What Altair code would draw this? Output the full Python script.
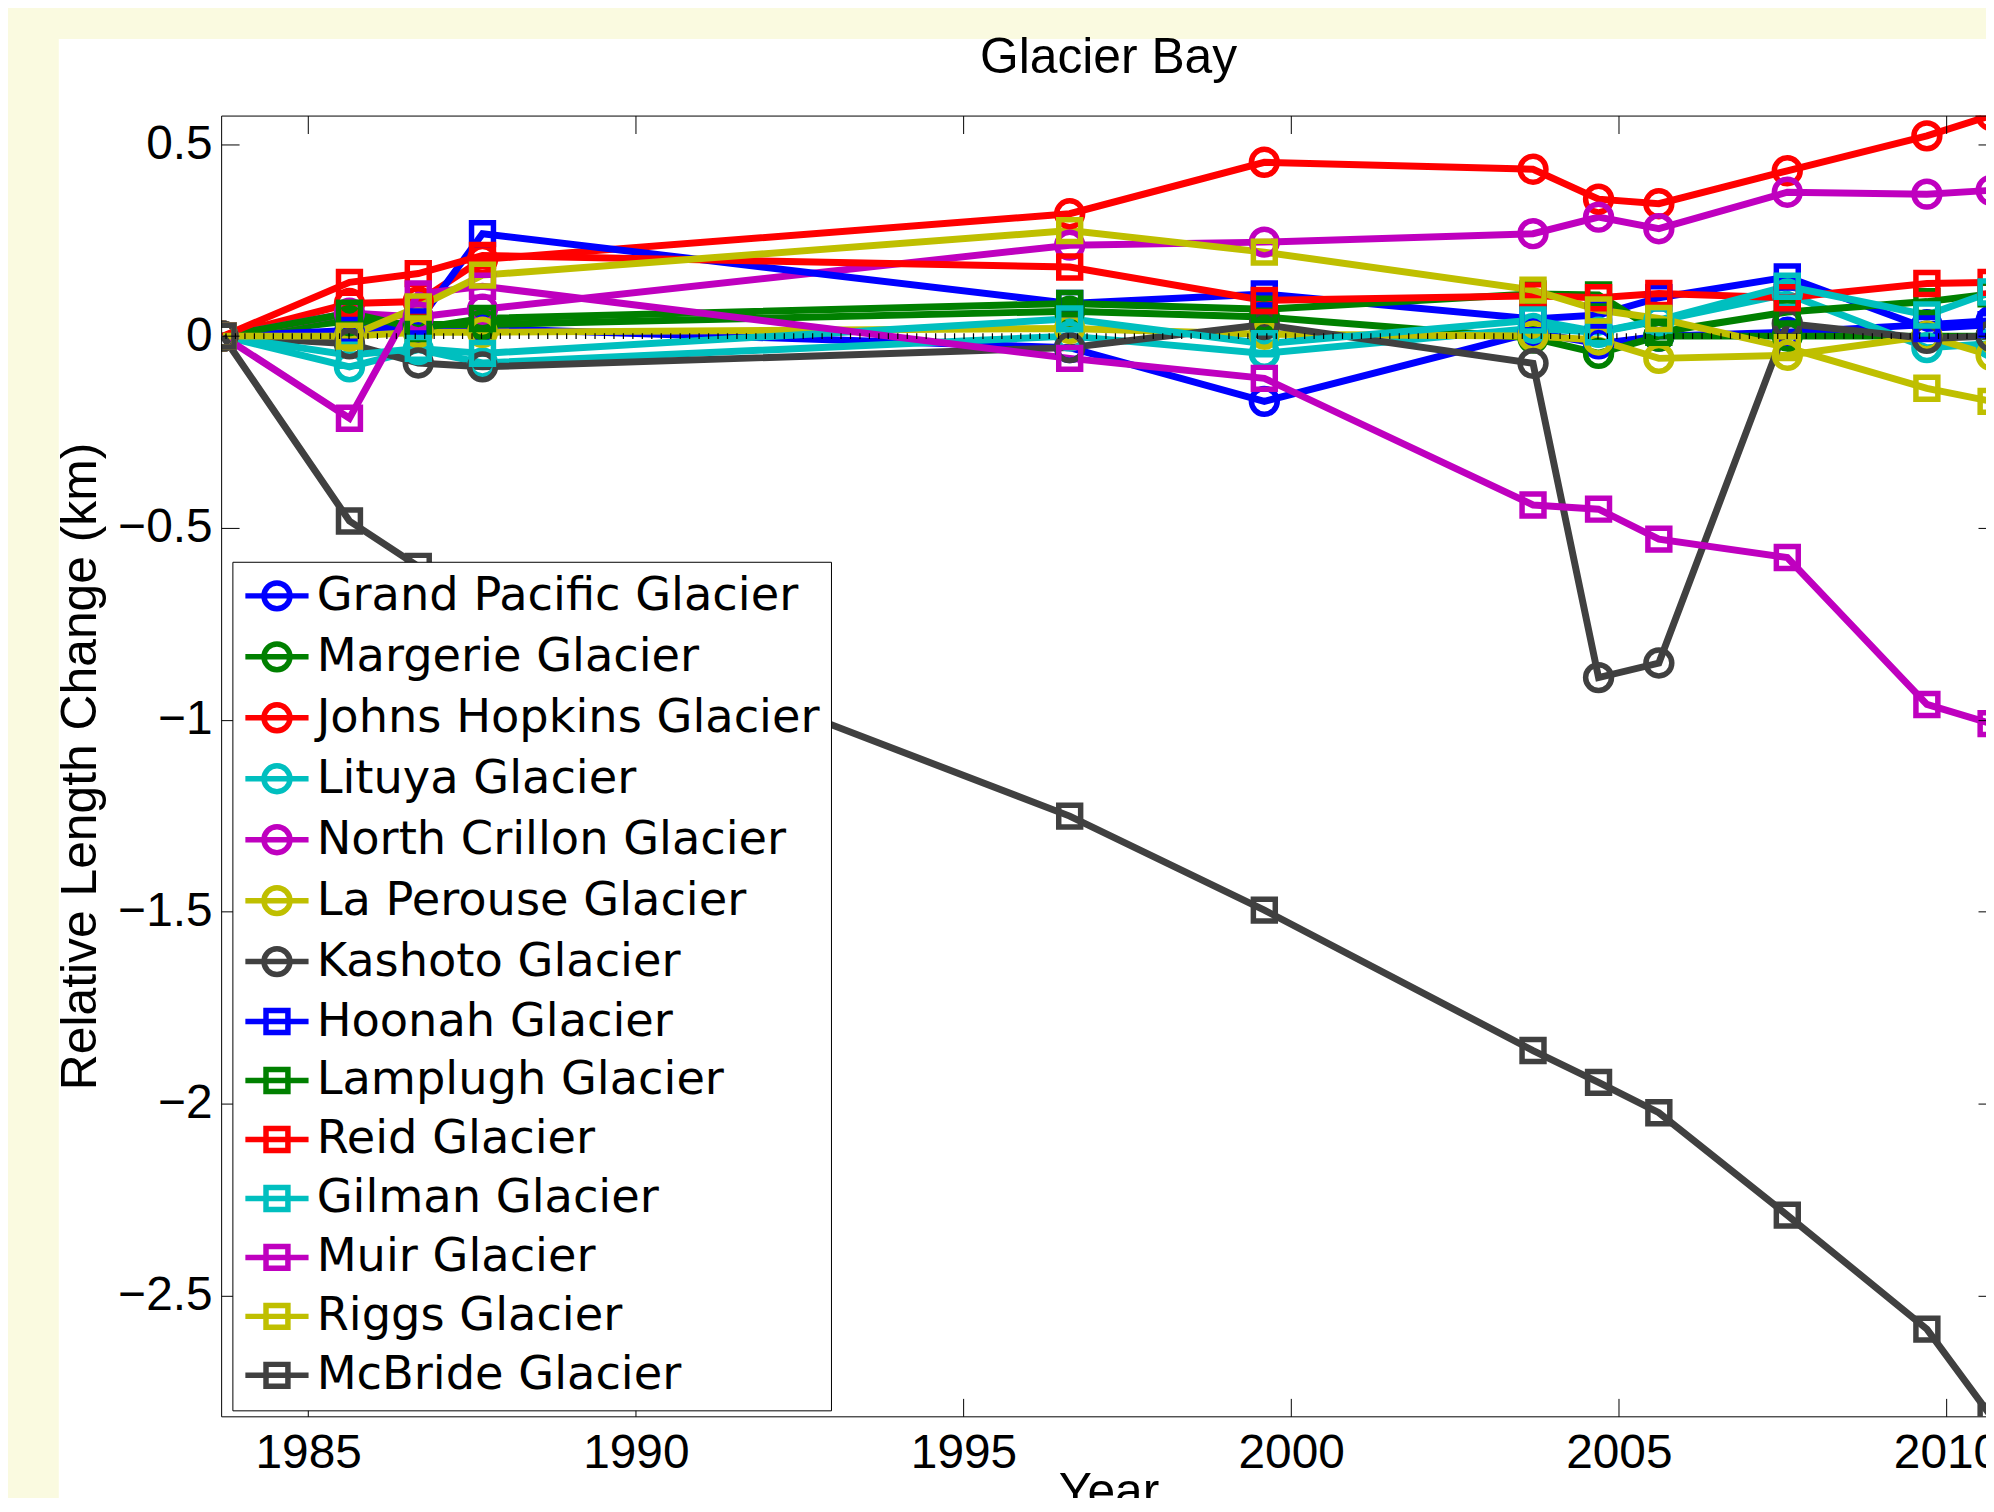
import altair as alt
import pandas as pd

# ---------------- data ----------------
years = [1983.70, 1985.63, 1986.68, 1987.66, 1996.62, 1999.59,
         2003.69, 2004.69, 2005.61, 2007.57, 2009.70, 2010.68]

glaciers = ["Grand Pacific Glacier", "Margerie Glacier", "Johns Hopkins Glacier",
            "Lituya Glacier", "North Crillon Glacier", "La Perouse Glacier",
            "Kashoto Glacier", "Hoonah Glacier", "Lamplugh Glacier", "Reid Glacier",
            "Gilman Glacier", "Muir Glacier", "Riggs Glacier", "McBride Glacier"]

markers = ["circle"] * 7 + ["square"] * 7

colors = ["#0000FF", "#008000", "#FF0000", "#00BFBF", "#BF00BF", "#BFBF00", "#404040",
          "#0000FF", "#008000", "#FF0000", "#00BFBF", "#BF00BF", "#BFBF00", "#404040"]

grand_pacific = [0, 0.01, 0.02, 0.02, -0.03, -0.17, 0.01, -0.02, 0.0, 0.01, 0.03, 0.04]
margerie = [0, 0.04, 0.03, 0.03, 0.065, 0.05, -0.005, -0.045, 0.0, 0.0, 0.0, 0.0]
johns_hopkins = [0, 0.085, 0.09, 0.2, 0.319, 0.453, 0.435, 0.357, 0.345, 0.431, 0.522, 0.575]
lituya = [0, -0.08, -0.035, -0.07, 0.0, -0.045, 0.02, 0.01, 0.04, 0.11, -0.03, -0.02]
north_crillon = [0, 0.06, 0.05, 0.07, 0.237, 0.245, 0.267, 0.31, 0.28, 0.375, 0.37, 0.38]
la_perouse = [0, 0.0, 0.01, 0.01, 0.02, 0.005, 0.0, -0.01, -0.058, -0.05, 0.0, -0.05]
kashoto = [0, -0.02, -0.07, -0.08, -0.03, 0.03, -0.071, -0.89, -0.852, 0.033, -0.006, 0.0]
hoonah = [0, 0.015, 0.037, 0.267, 0.085, 0.11, 0.045, 0.055, 0.1, 0.154, 0.02, 0.03]
lamplugh = [0, 0.06, 0.02, 0.046, 0.085, 0.07, 0.11, 0.107, 0.01, 0.063, 0.09, 0.11]
reid = [0, 0.14, 0.163, 0.21, 0.18, 0.093, 0.105, 0.10, 0.111, 0.10, 0.137, 0.14]
gilman = [0, -0.05, -0.032, -0.045, 0.045, -0.02, 0.042, 0.011, 0.042, 0.13, 0.055, 0.115]
muir = [0, -0.214, 0.11, 0.13, -0.058, -0.11, -0.44, -0.451, -0.529, -0.577, -0.96, -1.01]
riggs = [0, 0.0, 0.076, 0.159, 0.275, 0.219, 0.12, 0.068, 0.046, -0.03, -0.136, -0.17]
mcbride = [0, -0.482, -0.60, None, -1.251, -1.496, -1.862, -1.945, -2.024, -2.291, -2.588, -2.815]

series = [grand_pacific, margerie, johns_hopkins, lituya, north_crillon, la_perouse, kashoto,
          hoonah, lamplugh, reid, gilman, muir, riggs, mcbride]

x_ticks = [1985, 1990, 1995, 2000, 2005, 2010]
y_ticks = [-2.5, -2, -1.5, -1, -0.5, 0, 0.5]

rows = []
for g, m, vals in zip(glaciers, markers, series):
    for yr, v in zip(years, vals):
        if v is not None:
            rows.append({"glacier": g, "marker": m, "year": yr, "change": v})
df = pd.DataFrame(rows)

# ---------------- layout ----------------
W, H = 1782, 1306
FONT = "Liberation Sans"

xs = alt.Scale(domain=[1983.672, 2010.754], nice=False, zero=False)
ys = alt.Scale(domain=[-2.8153, 0.5748], nice=False, zero=False)
cs = alt.Scale(domain=glaciers, range=colors)

circle_path = "M-2.44,0L2.44,0M1,0A1,1,0,1,1,-1,0A1,1,0,1,1,1,0"
square_path = "M-2.44,0L2.44,0M-0.846,-0.846L0.846,-0.846L0.846,0.846L-0.846,0.846Z"
legend_shapes = [circle_path if m == "circle" else square_path for m in markers]

bottom_axis = alt.Axis(orient="bottom", values=x_ticks, format="d", labelFont=FONT,
                       labelFontSize=48, labelColor="black", labelPadding=13,
                       labelFlush=False, labelOverlap=False, ticks=False, tickSize=0,
                       domain=True, domainColor="black", domainWidth=1, grid=False,
                       title="Year", titleFont=FONT, titleFontSize=50,
                       titleFontWeight="normal", titleColor="black",
                       titleBaseline="alphabetic", titleAlign="center",
                       titleX=W / 2, titleY=92, zindex=1)
left_axis = alt.Axis(orient="left", values=y_ticks, format="~g", labelFont=FONT,
                     labelFontSize=48, labelColor="black", labelPadding=9,
                     labelOverlap=False, ticks=False, tickSize=0, domain=True,
                     domainColor="black", domainWidth=1, grid=False,
                     title="Relative Length Change (km)", titleFont=FONT,
                     titleFontSize=50, titleFontWeight="normal", titleColor="black",
                     titleAngle=270, titleBaseline="alphabetic", titleAlign="center",
                     titleX=-126, titleY=H / 2, zindex=1)
bottom_in_ticks = alt.Axis(orient="top", offset=-H, values=x_ticks, labels=False,
                           ticks=True, tickSize=18, tickColor="black", tickWidth=1,
                           domain=False, grid=False, title=None, zindex=1)
left_in_ticks = alt.Axis(orient="right", offset=-W, values=y_ticks, labels=False,
                         ticks=True, tickSize=18, tickColor="black", tickWidth=1,
                         domain=False, grid=False, title=None, zindex=1)
top_in_ticks = alt.Axis(orient="bottom", offset=-H, values=x_ticks, labels=False,
                        ticks=True, tickSize=18, tickColor="black", tickWidth=1,
                        domain=True, domainColor="black", domainWidth=1, grid=False,
                        title=None, zindex=1)
right_in_ticks = alt.Axis(orient="left", offset=-W, values=y_ticks, labels=False,
                          ticks=True, tickSize=18, tickColor="black", tickWidth=1,
                          domain=True, domainColor="black", domainWidth=1, grid=False,
                          title=None, zindex=1)

leg = alt.Legend(title=None, orient="none", legendX=11.3, legendY=448,
                 direction="vertical", padding=11, rowPadding=12.2,
                 symbolSize=676, symbolStrokeWidth=5.5, symbolOffset=10.5,
                 labelOffset=16.6, labelFont="DejaVu Sans", labelFontSize=46.5,
                 labelColor="black", labelLimit=1000, strokeColor="black",
                 fillColor="white", zindex=1)

panel = alt.Chart(pd.DataFrame({"p": [0]})).mark_rect(color="white", clip=False).encode(
    x=alt.value(-163), x2=alt.value(W + 60), y=alt.value(-77), y2=alt.value(H + 200))

# legend-only layer (its points fall outside the x domain and are clipped away)
legend_df = pd.DataFrame({"glacier": glaciers, "year": [1950.0] * 14, "change": [0.0] * 14})
legend_layer = alt.Chart(legend_df).mark_point(filled=False, opacity=1, clip=True,
                                               size=676, strokeWidth=5.5).encode(
    x=alt.X("year:Q", scale=xs, axis=top_in_ticks),
    y=alt.Y("change:Q", scale=ys, axis=None),
    color=alt.Color("glacier:N", scale=cs, legend=leg),
    shape=alt.Shape("glacier:N", scale=alt.Scale(domain=glaciers, range=legend_shapes),
                    legend=leg),
)

lines = alt.Chart(df).mark_line(strokeWidth=7, clip=True).encode(
    x=alt.X("year:Q", scale=xs, axis=bottom_axis),
    y=alt.Y("change:Q", scale=ys, axis=left_axis),
    color=alt.Color("glacier:N", scale=cs, legend=None),
    detail="glacier:N",
)

circles = alt.Chart(df).transform_filter(alt.datum.marker == "circle").mark_point(
    shape="circle", filled=False, size=676, strokeWidth=5.5, opacity=1, clip=True).encode(
    x=alt.X("year:Q", scale=xs, axis=bottom_in_ticks),
    y=alt.Y("change:Q", scale=ys, axis=left_in_ticks),
    color=alt.Color("glacier:N", scale=cs, legend=None),
)

squares = alt.Chart(df).transform_filter(alt.datum.marker == "square").mark_point(
    shape="square", filled=False, size=484, strokeWidth=5.5, opacity=1, clip=True).encode(
    x=alt.X("year:Q", scale=xs, axis=None),
    y=alt.Y("change:Q", scale=ys, axis=None),
    color=alt.Color("glacier:N", scale=cs, legend=None),
)

zero_line = alt.Chart(pd.DataFrame({"z": [0.0]})).mark_rule(
    color="black", strokeWidth=6, strokeDash=[1.2, 8.3]).encode(
    y=alt.Y("z:Q", scale=ys, axis=right_in_ticks))

chart = alt.layer(panel, legend_layer, lines, circles, squares, zero_line).resolve_axis(
    x="independent", y="independent"
).properties(
    width=W, height=H,
    title=alt.TitleParams("Glacier Bay", font=FONT, fontSize=50, fontWeight="normal",
                          color="black", anchor="middle", frame="group",
                          baseline="alphabetic", offset=-84),
    autosize=alt.AutoSizeParams(type="none"),
    padding={"left": 214, "top": 105, "right": -10, "bottom": 79},
    background="#FAFAE0",
).configure_view(stroke=None).configure(font=FONT)

chart.save("out.html", embed_options={"renderer": "svg", "actions": False})
